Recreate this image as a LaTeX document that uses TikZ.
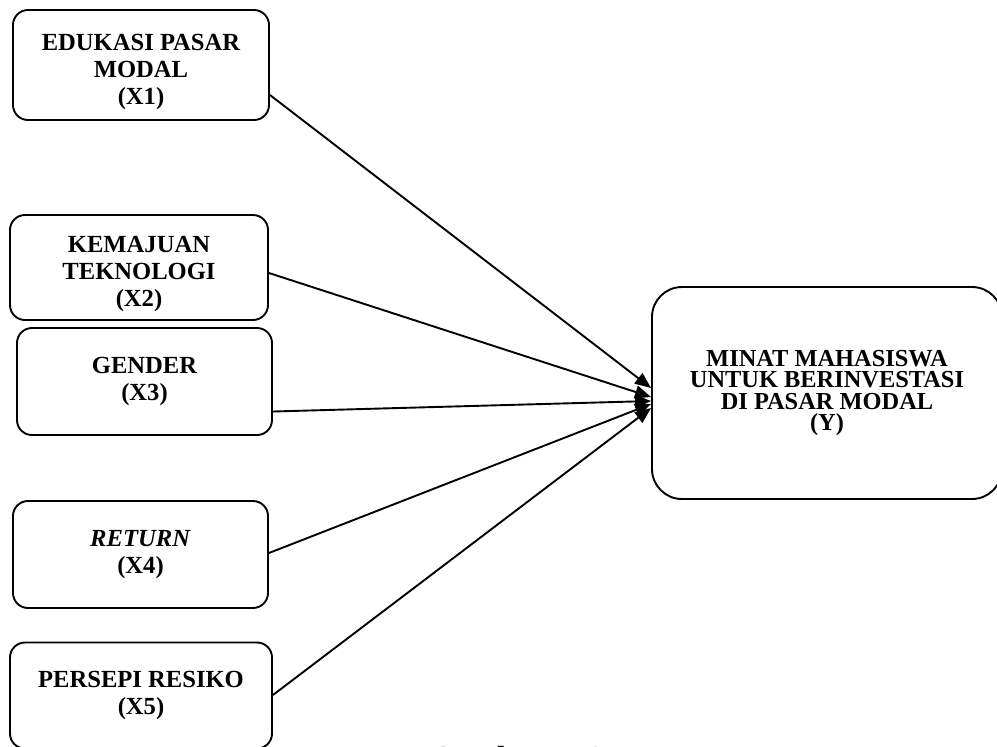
\documentclass[tikz,border=0pt]{standalone}
\usepackage{fontspec}
\setmainfont{Liberation Serif}
\usetikzlibrary{arrows.meta,positioning,calc}

\begin{document}
\begin{tikzpicture}[x=0.5pt, y=-0.5pt,
        varbox/.style={rectangle, draw, line width=0.95pt, rounded corners=7.5pt, align=center,
            font=\bfseries\fontsize{12.3}{13.5}\selectfont, inner sep=0pt},
        link/.style={line width=0.95pt, -{Triangle[length=8pt,width=6.5pt]}}]

        \useasboundingbox (0,0) rectangle (997,746);

        \node[varbox, minimum width=128pt, minimum height=55pt] (x1) at (141,65) {\rule{0pt}{15pt}EDUKASI PASAR\\MODAL\\(X1)};
        \node[varbox, minimum width=129pt, minimum height=52.5pt] (x2) at (139,267.5) {\rule{0pt}{15pt}KEMAJUAN\\TEKNOLOGI\\(X2)};
        \node[varbox, minimum width=127.5pt, minimum height=53.5pt] (x3) at (144.5,381.5) {GENDER\\(X3)};
        \node[varbox, minimum width=127.5pt, minimum height=53.5pt] (x4) at (140.5,554.5) {\textit{RETURN}\\(X4)};
        \node[varbox, minimum width=131pt, minimum height=53pt] (x5) at (141,695.5) {PERSEPI RESIKO\\(X5)};
        \node[varbox, rounded corners=15pt, minimum width=175pt, minimum height=106pt,
            font=\bfseries\fontsize{12.2}{10.7}\selectfont] (y) at (827,393) {MINAT MAHASISWA\\UNTUK BERINVESTASI\\DI PASAR MODAL\\(Y)};

        \node[font=\bfseries\fontsize{16}{18}\selectfont, anchor=north, inner sep=0pt] (caption) at (516,745.5) {Gambar II.1};

        \draw[link] ($(x1.east)+(0,30)$) -- ($(y.west)+(0,-5)$);
        \draw[link] ($(x2.east)+(0,5.5)$) -- ($(y.west)+(0,4)$);
        \draw[link] ($(x3.east)+(0,30)$) -- ($(y.west)+(0,8)$);
        \draw[link] ($(x4.east)+(0,-1.5)$) -- ($(y.west)+(0,11)$);
        \draw[link] ($(x5.east)+(0,-0.5)$) -- ($(y.west)+(0,15)$);
    \end{tikzpicture}
\end{document}
